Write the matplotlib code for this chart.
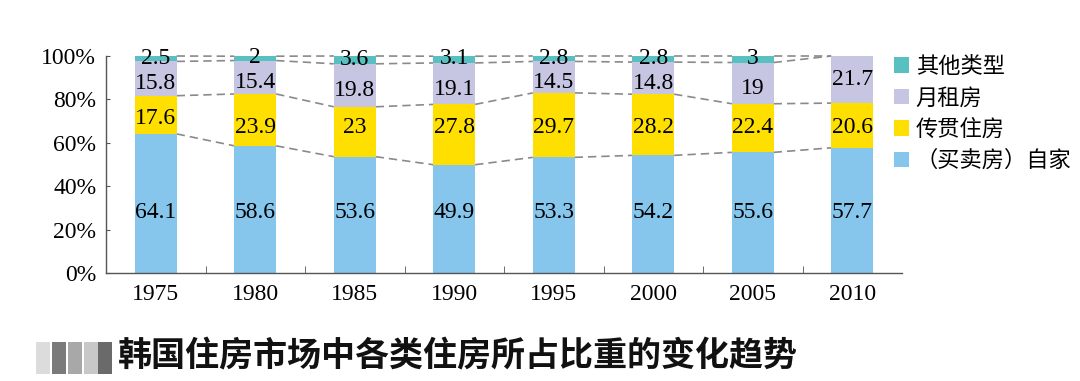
import matplotlib
matplotlib.use("Agg")
import matplotlib.pyplot as plt
from matplotlib.patches import Patch, Rectangle
import numpy as np

years = ["1975", "1980", "1985", "1990", "1995", "2000", "2005", "2010"]
own = [64.1, 58.6, 53.6, 49.9, 53.3, 54.2, 55.6, 57.7]
jeonse = [17.6, 23.9, 23.0, 27.8, 29.7, 28.2, 22.4, 20.6]
monthly = [15.8, 15.4, 19.8, 19.1, 14.5, 14.8, 19.0, 21.7]
other = [2.5, 2.0, 3.6, 3.1, 2.8, 2.8, 3.0, 0.0]
other_labels = ["2.5", "2", "3.6", "3.1", "2.8", "2.8", "3", ""]
own_labels = ["64.1", "58.6", "53.6", "49.9", "53.3", "54.2", "55.6", "57.7"]
jeonse_labels = ["17.6", "23.9", "23", "27.8", "29.7", "28.2", "22.4", "20.6"]
monthly_labels = ["15.8", "15.4", "19.8", "19.1", "14.5", "14.8", "19", "21.7"]
series_names = ["（买卖房）自家", "传贯住房", "月租房", "其他类型"]
title = "韩国住房市场中各类住房所占比重的变化趋势"

colors = ["#86C5EC", "#FFDF00", "#C6C6E3", "#58C0C0"]
serif = ["Liberation Serif", "DejaVu Serif"]
cjk = ["Noto Sans CJK SC", "DejaVu Sans"]

fig = plt.figure(figsize=(10.8, 3.81), dpi=100)
ax = fig.add_axes([106 / 1080, 108 / 381, (902 - 106) / 1080, (325 - 108) / 381])

x = np.arange(len(years))
w = 0.42
own_a = np.array(own)
jeo_a = np.array(jeonse)
mon_a = np.array(monthly)
oth_a = np.array(other)
b1 = own_a
b2 = b1 + jeo_a
b3 = b2 + mon_a
b3 = np.where(oth_a == 0, 100.0, b3)
b4 = np.where(oth_a == 0, 100.0, b3 + oth_a)
b4 = np.minimum(b4, 100.0)

ax.bar(x, own_a, w, color=colors[0], zorder=2)
ax.bar(x, jeo_a, w, bottom=b1, color=colors[1], zorder=2)
ax.bar(x, b3 - b2, w, bottom=b2, color=colors[2], zorder=2)
ax.bar(x, b4 - b3, w, bottom=b3, color=colors[3], zorder=2)

# dashed connectors
for levels in (b1, b2, b3, b4):
    for i in range(len(x) - 1):
        ax.plot([x[i] + w / 2, x[i + 1] - w / 2], [levels[i], levels[i + 1]],
                ls=(0, (5, 3)), color="#8a8a8a", lw=1.2, zorder=1, clip_on=False)

fs = 17
for i in range(len(x)):
    ax.text(x[i], 28, own_labels[i], ha="center", va="center", fontsize=fs, family=serif, zorder=3)
    yj = min(max(67, b1[i] + 7), b2[i] - 7)
    ax.text(x[i], yj, jeonse_labels[i], ha="center", va="center", fontsize=fs, family=serif, zorder=3)
    ym = (b2[i] + b3[i]) / 2 - (2.5 if other[i] > 0 else 0)
    ax.text(x[i], ym, monthly_labels[i], ha="center", va="center", fontsize=fs, family=serif, zorder=3)
    if other[i] > 0:
        ax.text(x[i], (b3[i] + b4[i]) / 2 + 0.3, other_labels[i], ha="center", va="center",
                fontsize=fs, family=serif, zorder=3)

ax.set_xlim(-0.5, len(x) - 0.5)
ax.set_ylim(0, 100)
ax.set_xticks(x)
ax.set_xticklabels(years, fontsize=fs, family=serif)
ax.set_xticks(x[:-1] + 0.5, minor=True)
ax.tick_params(axis="x", which="major", length=0, pad=8)
ax.tick_params(axis="x", which="minor", length=5, direction="in", color="#555555")
ax.set_yticks(np.arange(0, 101, 20))
ax.set_yticklabels([f"{v}%" for v in range(0, 101, 20)], fontsize=fs, family=serif)
ax.tick_params(axis="y", length=3, direction="in", color="#555555", pad=7)
for s in ("top", "right"):
    ax.spines[s].set_visible(False)
for s in ("left", "bottom"):
    ax.spines[s].set_color("#555555")
    ax.spines[s].set_linewidth(1.0)

handles = [Patch(facecolor=colors[k], edgecolor="none") for k in (3, 2, 1, 0)]
labels = [series_names[k] for k in (3, 2, 1, 0)]
fig.legend(handles, labels, loc="upper left", bbox_to_anchor=(885 / 1080, 1 - 46 / 381),
           frameon=False, prop={"family": cjk, "size": 16}, handlelength=0.68,
           handleheight=0.68, handletextpad=0.3, labelspacing=0.38, borderaxespad=0)

# blurred icon placeholder
for xx, shade in [(36, "#dcdcdc"), (52, "#7a7a7a"), (68, "#a8a8a8"), (84, "#c8c8c8"), (98, "#6a6a6a")]:
    fig.add_artist(Rectangle((xx / 1080, 1 - 374 / 381), 14 / 1080, 32 / 381,
                             transform=fig.transFigure, color=shade, lw=0))
fig.text(118 / 1080, 1 - 356 / 381, title, fontsize=24.5, family=cjk, weight="bold",
         va="center", ha="left", color="#111111")

fig.savefig("out.png", dpi=100)
